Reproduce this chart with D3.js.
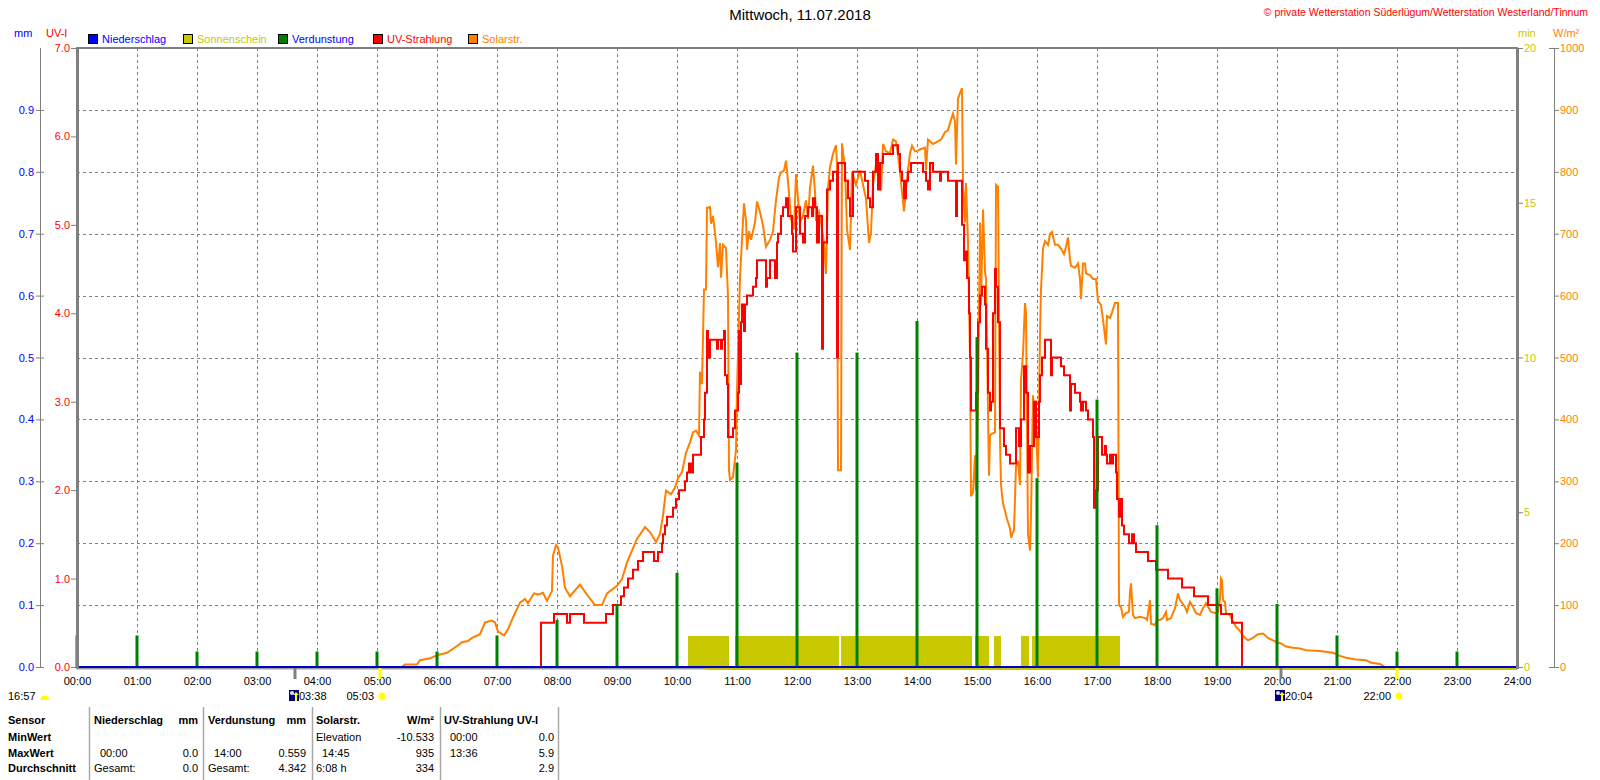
<!DOCTYPE html>
<html>
<head>
<meta charset="utf-8">
<script src="https://cdnjs.cloudflare.com/ajax/libs/d3/7.8.5/d3.min.js"></script>
<style>
  body { margin: 0; background: #fff; }
  svg { display: block; font-family: "Liberation Sans", Arial, sans-serif; }
</style>
</head>
<body>
<div id="chart"></div>
<script>
// ---- data ----
var hourLabels = ['00:00','01:00','02:00','03:00','04:00','05:00','06:00','07:00','08:00','09:00','10:00','11:00',
                  '12:00','13:00','14:00','15:00','16:00','17:00','18:00','19:00','20:00','21:00','22:00','23:00','24:00'];
var mmTicks  = [0, 0.1, 0.2, 0.3, 0.4, 0.5, 0.6, 0.7, 0.8, 0.9];
var uvTicks  = [0, 1, 2, 3, 4, 5, 6, 7];
var minTicks = [0, 5, 10, 15, 20];
var wTicks   = [0, 100, 200, 300, 400, 500, 600, 700, 800, 900, 1000];

// Niederschlag (mm)
var rainData = [['00:00', 0], ['24:00', 0]];

// Verdunstung per hour (mm), 00:00 .. 23:00
var evapValues = [0.051, 0.051, 0.025, 0.025, 0.025, 0.025, 0.025, 0.051, 0.076, 0.102, 0.152, 0.330,
                  0.508, 0.508, 0.559, 0.533, 0.305, 0.432, 0.229, 0.127, 0.102, 0.051, 0.025, 0.025];

// Sonnenschein (min per minute) as spans
var sunshineSpans = [['10:11', '10:52', 1], ['10:58', '12:42', 1], ['12:44', '14:55', 1], ['14:58', '15:12', 1],
                     ['15:17', '15:24', 1], ['15:44', '15:52', 1], ['15:55', '17:23', 1]];
var sunshineZero = [['10:29', 0], ['24:00', 0]];

// UV-Strahlung (UV-I)
var uvData = [
  ['00:00',0],['07:44',0.5],['07:57',0.6],['08:10',0.5],['08:13',0.6],['08:27',0.5],['08:49',0.6],['08:56',0.7],
  ['09:04',0.8],['09:07',0.9],['09:11',1.0],['09:16',1.1],['09:21',1.2],['09:26',1.3],['09:37',1.2],['09:41',1.3],
  ['09:45',1.4],['09:46',1.5],['09:48',1.6],['09:50',1.7],['09:56',1.8],['09:59',1.9],['10:02',2.0],['10:08',2.1],
  ['10:10',2.2],['10:12',2.3],['10:14',2.2],['10:16',2.4],['10:24',2.6],['10:27',2.8],['10:28',3.1],['10:30',3.8],
  ['10:31',3.5],['10:33',3.7],['10:40',3.6],['10:41',3.7],['10:44',3.6],['10:45',3.7],['10:47',3.8],['10:48',3.3],
  ['10:50',3.2],['10:51',2.6],['10:56',2.7],['10:58',2.9],['11:01',3.1],['11:02',3.8],['11:03',3.2],['11:04',3.9],
  ['11:05',4.1],['11:07',3.8],['11:08',4.1],['11:10',4.2],['11:16',4.3],['11:19',4.4],['11:20',4.6],['11:29',4.3],
  ['11:30',4.4],['11:33',4.6],['11:38',4.4],['11:40',4.8],['11:41',4.9],['11:44',5.1],['11:46',5.2],['11:49',5.3],
  ['11:51',5.1],['11:55',4.9],['11:56',4.7],['11:59',5.2],['12:03',4.9],['12:06',4.8],['12:08',5.1],['12:11',5.2],
  ['12:15',5.1],['12:16',5.3],['12:18',5.2],['12:20',4.8],['12:22',5.1],['12:25',3.6],['12:26',4.8],['12:30',5.4],
  ['12:33',5.5],['12:36',5.6],['12:40',3.5],['12:41',5.7],['12:48',5.5],['12:51',5.3],['12:53',5.1],['12:56',5.6],
  ['13:08',5.5],['13:11',5.3],['13:13',5.2],['13:16',5.6],['13:19',5.8],['13:21',5.4],['13:23',5.7],['13:26',5.8],
  ['13:36',5.9],['13:41',5.8],['13:43',5.6],['13:45',5.5],['13:47',5.3],['13:49',5.5],['13:51',5.6],['13:54',5.7],
  ['14:06',5.6],['14:09',5.5],['14:11',5.4],['14:13',5.7],['14:16',5.6],['14:23',5.5],['14:24',5.6],['14:31',5.5],
  ['14:39',5.1],['14:40',5.5],['14:45',5.0],['14:47',4.6],['14:49',4.7],['14:50',4.4],['14:52',4.0],['14:53',3.5],
  ['14:54',2.9],['14:59',3.1],['15:01',3.9],['15:03',4.2],['15:05',4.3],['15:08',4.1],['15:09',3.6],['15:11',3.1],
  ['15:13',2.9],['15:14',3.0],['15:16',4.0],['15:18',4.5],['15:19',4.3],['15:21',3.9],['15:23',2.7],['15:27',2.5],
  ['15:29',2.4],['15:33',2.3],['15:39',2.7],['15:42',2.5],['15:44',2.8],['15:47',3.4],['15:49',3.1],['15:51',2.2],
  ['15:53',2.5],['15:57',3.0],['15:59',2.6],['16:02',3.0],['16:03',3.3],['16:05',3.5],['16:08',3.7],['16:14',3.3],
  ['16:15',3.5],['16:23',3.5],['16:24',3.4],['16:27',3.3],['16:33',2.9],['16:34',3.2],['16:38',3.1],['16:43',3.0],
  ['16:44',2.9],['16:46',3.0],['16:49',2.9],['16:51',2.8],['16:56',2.6],['16:57',1.8],['16:59',2.0],['17:01',2.6],
  ['17:05',2.4],['17:08',2.5],['17:09',2.4],['17:10',2.3],['17:13',2.4],['17:14',2.3],['17:16',2.4],['17:19',2.2],
  ['17:20',1.9],['17:22',1.7],['17:23',1.9],['17:25',1.6],['17:27',1.5],['17:32',1.4],['17:35',1.5],['17:37',1.4],
  ['17:39',1.3],['17:51',1.2],['17:59',1.1],['18:11',1.0],['18:25',0.9],['18:37',0.8],['18:51',0.7],['19:04',0.6],
  ['19:15',0.5],['19:25',0],['24:00',0]
];

// Solarstrahlung (W/m²)
var solarData = [
  ['05:25',0],['05:28',4],['05:40',4],['05:43',11],['05:53',14],['06:00',19],['06:10',23],['06:20',34],['06:25',40],
  ['06:31',42],['06:35',47],['06:43',53],['06:48',72],['06:55',75],['06:58',72],['07:01',57],['07:07',51],['07:11',61],
  ['07:16',80],['07:23',104],['07:28',110],['07:31',103],['07:37',119],['07:41',117],['07:46',120],['07:50',107],
  ['07:55',123],['07:56',180],['07:59',197],['08:01',193],['08:05',163],['08:08',128],['08:13',114],['08:16',120],
  ['08:23',133],['08:30',117],['08:38',100],['08:45',100],['08:50',119],['09:00',131],['09:05',142],['09:10',169],
  ['09:20',207],['09:28',226],['09:33',218],['09:39',202],['09:43',215],['09:46',245],['09:49',285],['09:54',279],
  ['09:58',290],['10:01',305],['10:05',315],['10:09',346],['10:13',363],['10:16',379],['10:19',382],['10:22',374],
  ['10:23',477],['10:25',457],['10:27',610],['10:29',610],['10:30',742],['10:33',743],['10:34',716],['10:36',729],
  ['10:38',702],['10:39',685],['10:41',646],['10:43',685],['10:44',629],['10:46',682],['10:49',677],['10:51',599],
  ['10:52',318],['10:53',302],['10:56',307],['10:59',351],['11:00',446],['11:03',629],['11:05',690],['11:07',749],
  ['11:09',721],['11:10',674],['11:12',704],['11:14',690],['11:18',718],['11:20',752],['11:23',735],['11:26',713],
  ['11:29',679],['11:33',690],['11:36',704],['11:39',754],['11:42',791],['11:44',799],['11:47',802],['11:49',818],
  ['11:51',785],['11:54',724],['11:57',707],['11:59',796],['12:01',757],['12:03',718],['12:06',729],['12:09',754],
  ['12:11',724],['12:13',774],['12:16',810],['12:18',768],['12:19',721],['12:22',735],['12:24',718],['12:27',685],
  ['12:29',635],['12:31',774],['12:33',807],['12:36',829],['12:39',843],['12:40',812],['12:41',318],['12:44',318],
  ['12:45',846],['12:48',807],['12:50',707],['12:53',674],['12:55',799],['12:59',779],['13:03',802],['13:06',779],
  ['13:09',757],['13:12',685],['13:14',702],['13:16',779],['13:19',812],['13:23',800],['13:24',770],['13:26',845],
  ['13:29',833],['13:33',830],['13:36',852],['13:39',849],['13:41',827],['13:43',800],['13:45',767],['13:47',736],
  ['13:49',773],['13:51',803],['13:53',830],['13:55',842],['13:58',833],['14:00',833],['14:03',836],['14:08',839],
  ['14:09',803],['14:11',852],['14:16',845],['14:21',849],['14:24',852],['14:28',864],['14:31',867],['14:33',879],
  ['14:36',894],['14:38',882],['14:39',812],['14:41',918],['14:43',927],['14:45',935],['14:46',779],['14:48',718],
  ['14:49',782],['14:51',688],['14:53',500],['14:54',276],['14:56',282],['14:58',342],['14:59',285],['15:01',421],
  ['15:03',718],['15:04',585],['15:06',739],['15:08',639],['15:09',627],['15:11',415],['15:12',309],['15:13',373],
  ['15:14',376],['15:18',379],['15:19',779],['15:21',776],['15:23',367],['15:24',294],['15:26',264],['15:28',252],
  ['15:30',239],['15:33',224],['15:34',209],['15:37',221],['15:39',324],['15:41',333],['15:43',294],['15:44',464],
  ['15:46',506],['15:48',588],['15:49',573],['15:51',215],['15:53',188],['15:54',245],['15:56',439],['15:58',403],
  ['15:59',385],['16:01',306],['16:03',536],['16:04',609],['16:06',676],['16:08',688],['16:11',682],['16:13',700],
  ['16:15',703],['16:18',682],['16:21',682],['16:24',676],['16:27',667],['16:29',679],['16:31',694],['16:33',658],
  ['16:34',648],['16:38',645],['16:41',652],['16:43',627],['16:44',594],['16:46',652],['16:48',652],['16:49',636],
  ['16:53',633],['16:56',627],['16:59',627],['17:01',591],['17:04',585],['17:06',561],['17:09',521],['17:10',567],
  ['17:13',564],['17:15',573],['17:18',588],['17:21',588],['17:22',100],['17:24',97],['17:26',81],['17:29',87],
  ['17:32',89],['17:33',121],['17:34',135],['17:36',84],['17:38',79],['17:43',81],['17:48',79],['17:50',76],
  ['17:53',108],['17:54',70],['17:58',68],['18:00',76],['18:03',76],['18:06',79],['18:09',89],['18:10',76],
  ['18:14',79],['18:18',95],['18:21',119],['18:23',108],['18:28',97],['18:30',89],['18:33',105],['18:36',97],
  ['18:39',87],['18:43',84],['18:46',95],['18:49',103],['18:54',89],['18:59',87],['19:01',89],['19:03',111],
  ['19:04',143],['19:05',140],['19:06',108],['19:08',105],['19:09',87],['19:13',84],['19:16',73],['19:19',65],
  ['19:23',58],['19:26',50],['19:31',43],['19:36',47],['19:41',53],['19:46',54],['19:51',47],['19:56',43],
  ['20:00',40],['20:04',38],['20:09',33],['20:16',31],['20:23',30],['20:29',27],['20:43',26],['20:56',23],
  ['21:03',18],['21:09',15],['21:19',12],['21:29',11],['21:34',7],['21:43',5],['21:48',0]
];

// sun / moon times
var dayLength = '16:57';
var astroEvents = [['03:38', 'moon'], ['05:03', 'sun'], ['20:04', 'moon'], ['22:00', 'sun']];

// summary table
var tableRows  = ['Sensor', 'MinWert', 'MaxWert', 'Durchschnitt'];
var rainCells  = [['Niederschlag', 'mm'], ['', ''], ['00:00', '0.0'], ['Gesamt:', '0.0']];
var evapCells  = [['Verdunstung', 'mm'], ['', ''], ['14:00', '0.559'], ['Gesamt:', '4.342']];
var solarCells = [['Solarstr.', 'W/m²'], ['Elevation', '-10.533'], ['14:45', '935'], ['6:08 h', '334']];
var uvCells    = [['UV-Strahlung UV-I', ''], ['00:00', '0.0'], ['13:36', '5.9'], ['', '2.9']];

// ---- drawing ----
var width = 1600, height = 780;
var plot = { left: 77, right: 1517, top: 48, bottom: 667 };
var colors = { rain: '#0000ff', rainLine: '#0000c8', sun: '#c8c800', evap: '#008000', uv: '#ff0000', solar: '#ff8000', grid: '#808080' };

function toMin(s) {
    var p = s.split(':');
    return +p[0] * 60 + +p[1];
}

var svg = d3.select('#chart').append('svg')
    .attr('width', width)
    .attr('height', height);

var x    = d3.scaleLinear().domain([0, 1440]).range([plot.left, plot.right]);
var yMM  = d3.scaleLinear().domain([0, 1]).range([plot.bottom, plot.top]);
var yUV  = d3.scaleLinear().domain([0, 7]).range([plot.bottom, plot.top]);
var yMin = d3.scaleLinear().domain([0, 20]).range([plot.bottom, plot.top]);
var yW   = d3.scaleLinear().domain([0, 1000]).range([plot.bottom, plot.top]);

// grid
var grid = svg.append('g')
    .attr('stroke', colors.grid)
    .attr('stroke-dasharray', '3,3')
    .attr('shape-rendering', 'crispEdges');
grid.selectAll('.hgrid')
    .data(mmTicks.slice(1))
    .enter().append('line')
    .attr('x1', plot.left).attr('x2', plot.right)
    .attr('y1', function(d) { return Math.round(yMM(d)) + 0.5; })
    .attr('y2', function(d) { return Math.round(yMM(d)) + 0.5; });
grid.selectAll('.vgrid')
    .data(d3.range(1, 24))
    .enter().append('line')
    .attr('y1', plot.top).attr('y2', plot.bottom)
    .attr('x1', function(d) { return Math.round(x(d * 60)) + 0.5; })
    .attr('x2', function(d) { return Math.round(x(d * 60)) + 0.5; });

// bottom frame line
svg.append('line')
    .attr('x1', plot.left).attr('x2', plot.right)
    .attr('y1', plot.bottom + 1.5).attr('y2', plot.bottom + 1.5)
    .attr('stroke', '#a0a0a0').attr('stroke-width', 2);

// sunshine bars
svg.append('g').selectAll('rect')
    .data(sunshineSpans)
    .enter().append('rect')
    .attr('x', function(d) { return x(toMin(d[0])); })
    .attr('width', function(d) { return x(toMin(d[1])) - x(toMin(d[0])); })
    .attr('y', function(d) { return yMin(d[2]); })
    .attr('height', function(d) { return yMin(0) - yMin(d[2]); })
    .attr('fill', colors.sun);

svg.append('path')
    .datum(sunshineZero)
    .attr('fill', 'none')
    .attr('stroke', colors.sun)
    .attr('stroke-width', 2)
    .attr('transform', 'translate(0,2)')
    .attr('d', d3.line()
        .x(function(d) { return x(toMin(d[0])); })
        .y(function(d) { return yMin(d[1]); }));

// solar radiation
svg.append('path')
    .datum(solarData)
    .attr('fill', 'none')
    .attr('stroke', colors.solar)
    .attr('stroke-width', 2)
    .attr('d', d3.line()
        .x(function(d) { return x(toMin(d[0])); })
        .y(function(d) { return yW(d[1]); }));

// uv
svg.append('path')
    .datum(uvData)
    .attr('fill', 'none')
    .attr('stroke', colors.uv)
    .attr('stroke-width', 2)
    .attr('d', d3.line()
        .curve(d3.curveStepAfter)
        .x(function(d) { return x(toMin(d[0])); })
        .y(function(d) { return yUV(d[1]); }));

// evaporation bars
svg.append('g').selectAll('rect')
    .data(evapValues)
    .enter().append('rect')
    .attr('x', function(d, i) { return x(i * 60) - 1.5; })
    .attr('width', 3)
    .attr('y', function(d) { return yMM(d); })
    .attr('height', function(d) { return yMM(0) - yMM(d); })
    .attr('fill', colors.evap);

// rain line
svg.append('path')
    .datum(rainData)
    .attr('fill', 'none')
    .attr('stroke', colors.rainLine)
    .attr('stroke-width', 2)
    .attr('d', d3.line()
        .x(function(d) { return x(toMin(d[0])); })
        .y(function(d) { return yMM(d[1]); }));

// frame
var frame = svg.append('g').attr('stroke', colors.grid).attr('shape-rendering', 'crispEdges');
frame.append('line').attr('x1', plot.left - 1).attr('x2', plot.right + 1).attr('y1', plot.top).attr('y2', plot.top).attr('stroke-width', 2);
frame.append('line').attr('x1', plot.left).attr('x2', plot.left).attr('y1', plot.top).attr('y2', plot.bottom + 2).attr('stroke-width', 3);
frame.append('line').attr('x1', plot.right).attr('x2', plot.right).attr('y1', plot.top).attr('y2', plot.bottom + 2).attr('stroke-width', 3);

// axes
function styleAxis(g, color) {
    g.attr('font-size', 11).attr('font-family', null);
    g.select('.domain').remove();
    g.selectAll('.tick line').attr('stroke', colors.grid);
    g.selectAll('.tick text').attr('fill', color);
}

var fmt1 = d3.format('.1f');
var fmtInt = d3.format('d');

svg.append('line')
    .attr('x1', 40.5).attr('x2', 40.5).attr('y1', plot.top).attr('y2', plot.bottom)
    .attr('stroke', colors.grid);
svg.append('g')
    .attr('transform', 'translate(44,0)')
    .call(d3.axisLeft(yMM).tickValues(mmTicks).tickFormat(fmt1).tickSize(8).tickPadding(2))
    .call(styleAxis, colors.rain);

svg.append('g')
    .attr('transform', 'translate(' + (plot.left - 1) + ',0)')
    .call(d3.axisLeft(yUV).tickValues(uvTicks).tickFormat(fmt1).tickSize(5).tickPadding(1))
    .call(styleAxis, colors.uv);

svg.append('g')
    .attr('transform', 'translate(' + (plot.right + 1) + ',0)')
    .call(d3.axisRight(yMin).tickValues(minTicks).tickFormat(fmtInt).tickSize(5).tickPadding(1))
    .call(styleAxis, colors.sun);

svg.append('line')
    .attr('x1', 1554.5).attr('x2', 1554.5).attr('y1', plot.top).attr('y2', plot.bottom)
    .attr('stroke', colors.grid);
svg.append('g')
    .attr('transform', 'translate(1554,0)')
    .call(d3.axisRight(yW).tickValues(wTicks).tickFormat(fmtInt).tickSize(5).tickPadding(1))
    .call(styleAxis, colors.solar);
svg.selectAll('.wcap')
    .data([0, 1000])
    .enter().append('line')
    .attr('x1', 1549).attr('x2', 1555)
    .attr('y1', function(d) { return yW(d) + 0.5; })
    .attr('y2', function(d) { return yW(d) + 0.5; })
    .attr('stroke', colors.grid);

svg.append('g')
    .attr('transform', 'translate(0,' + plot.bottom + ')')
    .call(d3.axisBottom(x)
        .tickValues(d3.range(0, 25).map(function(h) { return h * 60; }))
        .tickFormat(function(d, i) { return hourLabels[i]; })
        .tickSize(0).tickPadding(10))
    .call(styleAxis, '#000');

// unit labels
var units = svg.append('g').attr('font-size', 11);
units.append('text').attr('x', 14).attr('y', 37).attr('fill', colors.rain).text('mm');
units.append('text').attr('x', 46).attr('y', 37).attr('fill', colors.uv).text('UV-I');
units.append('text').attr('x', 1518).attr('y', 37).attr('fill', colors.sun).text('min');
units.append('text').attr('x', 1553).attr('y', 37).attr('fill', colors.solar).text('W/m²');

// title & copyright
svg.append('text')
    .attr('x', 800).attr('y', 20)
    .attr('text-anchor', 'middle')
    .attr('font-size', 15)
    .text('Mittwoch, 11.07.2018');
svg.append('text')
    .attr('x', 1588).attr('y', 16)
    .attr('text-anchor', 'end')
    .attr('font-size', 10.5)
    .attr('fill', colors.uv)
    .text('© private Wetterstation Süderlügum/Wetterstation Westerland/Tinnum');

// legend
var legendItems = [
    { name: 'Niederschlag', box: colors.rain,  text: colors.rain,  x: 88 },
    { name: 'Sonnenschein', box: colors.sun,   text: colors.sun,   x: 183 },
    { name: 'Verdunstung',  box: colors.evap,  text: colors.rain,  x: 278 },
    { name: 'UV-Strahlung', box: colors.uv,    text: colors.uv,    x: 373 },
    { name: 'Solarstr.',    box: colors.solar, text: colors.solar, x: 468 }
];
var legend = svg.append('g').attr('font-size', 11)
    .selectAll('g')
    .data(legendItems)
    .enter().append('g')
    .attr('transform', function(d) { return 'translate(' + d.x + ',34)'; });
legend.append('rect')
    .attr('x', 0.5).attr('y', 0.5)
    .attr('width', 9).attr('height', 9)
    .attr('fill', function(d) { return d.box; })
    .attr('stroke', '#000');
legend.append('text')
    .attr('x', 14).attr('y', 9)
    .attr('fill', function(d) { return d.text; })
    .text(function(d) { return d.name; });

// sun / moon icons
function drawSun(g, cx, cy) {
    var rays = g.append('g').attr('stroke', '#ffff80').attr('stroke-width', 1);
    d3.range(8).forEach(function(k) {
        var a = k * Math.PI / 4;
        rays.append('line')
            .attr('x1', cx + Math.cos(a) * 3).attr('y1', cy + Math.sin(a) * 3)
            .attr('x2', cx + Math.cos(a) * 5.5).attr('y2', cy + Math.sin(a) * 5.5);
    });
    g.append('circle').attr('cx', cx).attr('cy', cy).attr('r', 3.2).attr('fill', '#ffff00');
}
function drawMoon(g, cx, cy) {
    g.append('rect').attr('x', cx - 5).attr('y', cy - 6).attr('width', 10).attr('height', 11).attr('fill', '#000080');
    g.append('circle').attr('cx', cx - 2).attr('cy', cy - 3).attr('r', 2).attr('fill', '#e0e0ff');
    g.append('path')
        .attr('d', 'M' + (cx + 1) + ',' + (cy + 5) + 'v-6h-2l3,-3l3,3h-2v6z')
        .attr('fill', '#ffff00');
}

var astro = svg.append('g').attr('font-size', 11);
astro.append('text').attr('x', 8).attr('y', 700).text(dayLength);
astro.append('path')
    .attr('d', d3.arc()({ innerRadius: 0, outerRadius: 4.5, startAngle: -Math.PI / 2, endAngle: Math.PI / 2 }))
    .attr('transform', 'translate(45,700)')
    .attr('fill', '#ffff00');

astroEvents.forEach(function(ev) {
    var px = x(toMin(ev[0]));
    svg.append('rect')
        .attr('x', px - 1.5).attr('y', plot.bottom + 1)
        .attr('width', 3).attr('height', 11)
        .attr('fill', ev[1] === 'sun' ? '#ffff00' : '#808080');
    if (ev[1] === 'moon') {
        drawMoon(astro, px - 1, 696);
        astro.append('text').attr('x', px + 4).attr('y', 700).text(ev[0]);
    } else {
        drawSun(astro, px + 2, 696);
        astro.append('text').attr('x', px - 6).attr('y', 700).attr('text-anchor', 'end').text(ev[0]);
    }
});

// summary table
var table = svg.append('g').attr('font-size', 11);
var rowY = [724, 741, 757, 772];
var dividers = [89, 203, 312, 440, 558];
table.selectAll('.div')
    .data(dividers)
    .enter().append('line')
    .attr('x1', function(d) { return d + 0.5; })
    .attr('x2', function(d) { return d + 0.5; })
    .attr('y1', 707).attr('y2', 780)
    .attr('stroke', '#a8a8a8').attr('stroke-width', 1.5);

table.selectAll('.row')
    .data(tableRows)
    .enter().append('text')
    .attr('x', 8)
    .attr('y', function(d, i) { return rowY[i]; })
    .attr('font-weight', 'bold')
    .text(function(d) { return d; });

var columns = [
    { cells: rainCells,  left: 94,  right: 198 },
    { cells: evapCells,  left: 208, right: 306 },
    { cells: solarCells, left: 316, right: 434 },
    { cells: uvCells,    left: 444, right: 554 }
];
columns.forEach(function(col) {
    col.cells.forEach(function(c, i) {
        var bold = i === 0 ? 'bold' : 'normal';
        var indent = /^\d\d:\d\d$/.test(c[0]) ? 6 : 0;
        table.append('text')
            .attr('x', col.left + indent).attr('y', rowY[i])
            .attr('font-weight', bold)
            .text(c[0]);
        table.append('text')
            .attr('x', col.right).attr('y', rowY[i])
            .attr('text-anchor', 'end')
            .attr('font-weight', bold)
            .text(c[1]);
    });
});
</script>
</body>
</html>
